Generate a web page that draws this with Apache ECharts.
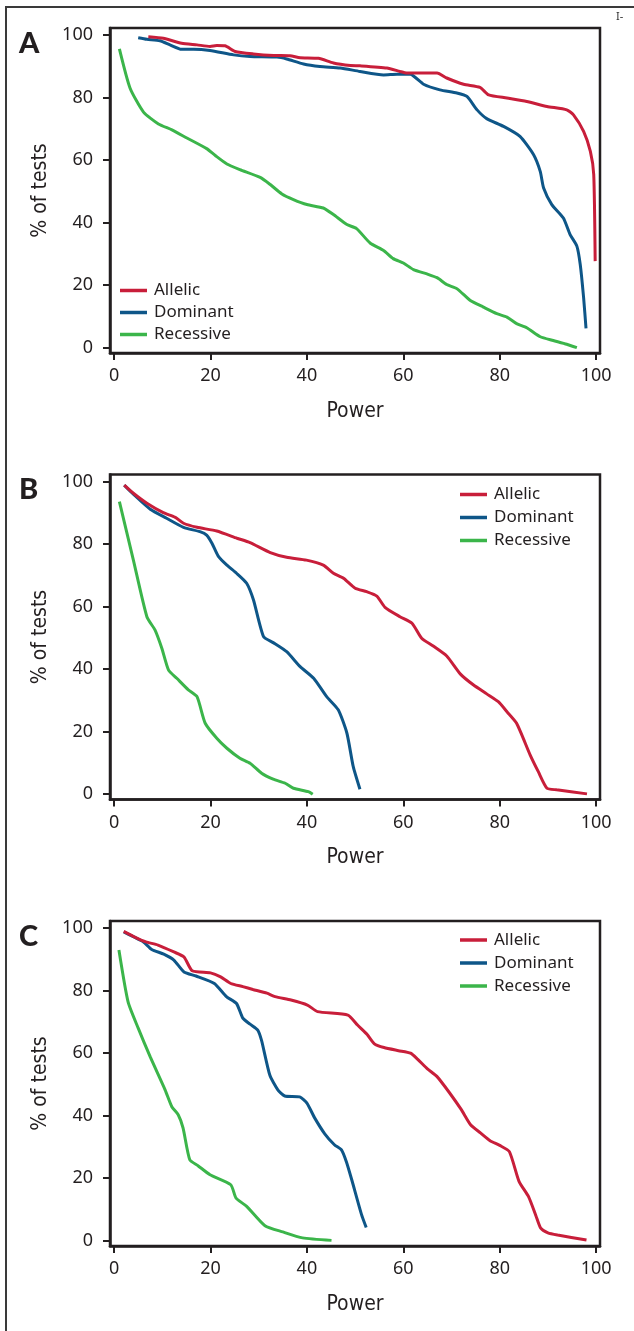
<!DOCTYPE html>
<html>
<head>
<meta charset="utf-8">
<script src="https://cdn.jsdelivr.net/npm/echarts@6/dist/echarts.min.js"></script>
<style>
html,body{margin:0;padding:0;background:#fff;}
#chart{width:634px;height:1331px;}
</style>
</head>
<body>
<div id="chart"></div>
<script>
// ---------- data ----------
var seriesNames = ['Allelic', 'Dominant', 'Recessive'];
var panelLetters = ['A', 'B', 'C'];
var xTickValues = [0, 20, 40, 60, 80, 100];
var yTickValues = [0, 20, 40, 60, 80, 100];
var xAxisTitle = 'Power';
var yAxisTitle = '% of tests';

// Panel A  [power, % of tests]
var aAllelic = [[7.1,99.5],[10.2,99.0],[14.0,97.4],[17.2,96.9],[19.9,96.4],[21.3,96.7],[23.0,96.6],[25.1,94.8],[28.9,94.0],[33.1,93.5],[36.5,93.4],[38.6,92.8],[42.4,92.6],[45.5,91.1],[49.0,90.3],[51.0,90.2],[56.6,89.5],[59.3,88.4],[60.7,87.9],[67.0,87.9],[69.0,86.3],[72.5,84.3],[75.9,83.3],[77.7,80.9],[81.5,79.9],[85.6,78.8],[89.8,77.2],[93.9,76.1],[95.3,74.5],[97.4,69.2],[98.8,62.8],[99.5,55.4],[99.8,27.7]];
var aDominant = [[5.0,99.2],[6.8,98.7],[9.5,98.2],[11.6,96.9],[14.0,95.5],[16.5,95.5],[19.9,95.1],[24.8,93.7],[28.2,93.2],[33.8,93.0],[35.8,92.4],[39.3,90.8],[42.7,90.0],[46.9,89.5],[51.0,88.4],[55.9,87.3],[58.7,87.5],[61.4,87.5],[64.2,84.3],[67.6,82.5],[71.1,81.5],[73.2,80.4],[75.3,76.1],[77.3,73.3],[80.8,70.8],[84.2,67.6],[87.0,61.8],[88.4,56.4],[89.1,51.1],[90.8,45.8],[93.2,41.5],[94.6,36.2],[96.0,32.5],[96.7,26.6],[97.4,16.0],[97.9,6.2]];
var aRecessive = [[1.1,95.6],[3.3,83.1],[6.1,75.4],[9.2,71.6],[12.0,69.7],[15.1,67.1],[19.2,63.7],[21.0,61.5],[23.4,58.8],[26.1,57.0],[30.3,54.5],[32.4,52.2],[34.8,49.2],[37.2,47.4],[40.0,45.8],[43.4,44.7],[45.5,42.6],[48.3,39.4],[50.3,38.1],[53.1,33.5],[55.9,31.1],[57.9,28.5],[60.0,27.1],[62.1,25.0],[64.9,23.6],[67.0,22.4],[69.0,20.2],[71.1,18.9],[73.9,15.1],[76.6,13.0],[79.4,10.9],[81.5,9.8],[83.5,7.7],[85.6,6.4],[88.4,3.5],[91.1,2.3],[93.9,1.1],[96.0,0.0]];

// Panel B
var bAllelic = [[2.1,98.9],[4.0,96.3],[6.8,93.1],[10.2,90.1],[12.7,88.6],[14.4,86.7],[17.2,85.4],[21.3,84.2],[25.5,81.9],[28.2,80.5],[32.4,77.3],[35.8,75.8],[39.9,74.9],[43.4,73.3],[45.5,70.7],[47.6,69.1],[50.0,65.9],[52.4,64.8],[54.5,63.4],[56.2,59.8],[59.3,56.8],[61.8,54.7],[63.8,49.9],[66.2,47.4],[69.0,44.2],[71.8,38.5],[74.5,35.0],[77.3,32.1],[79.7,29.6],[81.5,26.4],[83.5,22.7],[86.3,12.6],[88.0,7.2],[89.8,1.9],[91.8,1.4],[98.1,0.1]];
var bDominant = [[2.1,98.9],[4.0,96.0],[7.5,91.2],[10.9,88.3],[14.4,85.4],[17.8,84.0],[19.2,82.9],[20.3,80.3],[21.6,76.2],[23.4,73.3],[25.4,70.7],[27.5,67.5],[28.9,62.2],[31.0,50.4],[33.0,48.5],[35.8,45.6],[38.6,40.8],[41.4,37.1],[44.1,31.2],[46.5,27.0],[48.3,19.5],[49.6,8.9],[51.0,1.6]];
var bRecessive = [[1.1,93.6],[4.0,74.9],[6.8,56.8],[8.5,52.5],[9.9,46.7],[11.3,39.7],[13.0,37.1],[15.4,33.4],[17.2,31.2],[18.9,22.7],[21.3,17.9],[23.4,14.7],[26.1,11.5],[28.2,9.9],[30.6,6.7],[33.0,4.8],[35.5,3.5],[37.2,1.9],[40.3,0.8],[41.2,0.0]];

// Panel C
var cAllelic = [[2.0,99.0],[4.5,97.0],[6.6,95.6],[9.1,94.6],[12.4,92.4],[14.5,90.8],[16.2,86.4],[20.0,85.7],[22.1,84.4],[24.2,82.3],[26.7,81.3],[28.8,80.4],[31.7,79.2],[33.4,78.1],[36.7,77.0],[40.1,75.4],[42.2,73.3],[48.5,72.2],[50.5,69.0],[52.5,66.0],[54.0,63.0],[56.0,61.8],[59.0,60.8],[61.5,60.0],[63.0,58.0],[65.0,55.0],[67.0,52.5],[69.5,47.5],[72.0,42.0],[74.0,37.0],[76.0,34.5],[78.0,32.0],[80.0,30.5],[82.0,28.5],[84.0,19.0],[86.0,14.0],[87.5,8.0],[88.5,4.0],[90.0,2.5],[92.0,1.8],[98.0,0.2]];
var cDominant = [[2.0,98.8],[4.1,97.2],[6.1,95.6],[7.8,93.2],[10.3,91.7],[12.4,89.8],[14.5,86.0],[17.0,84.7],[20.8,82.3],[23.3,78.1],[25.4,75.9],[26.7,71.2],[28.2,69.3],[29.8,67.4],[30.6,64.0],[32.3,53.0],[34.0,48.2],[35.4,46.3],[38.5,46.0],[40.0,44.0],[41.6,39.3],[43.7,34.2],[45.7,30.7],[47.2,29.0],[48.2,25.2],[49.3,19.5],[51.3,8.5],[52.3,4.2]];
var cRecessive = [[1.0,93.0],[2.9,76.4],[5.0,68.0],[7.5,58.8],[10.6,48.2],[12.0,42.8],[13.3,40.3],[14.3,36.1],[15.7,25.9],[17.4,24.0],[19.9,21.1],[24.2,17.9],[25.3,13.6],[27.5,11.0],[31.3,4.8],[35.0,2.8],[39.1,0.9],[45.1,0.1]];

var panelData = [
  [aAllelic, aDominant, aRecessive],
  [bAllelic, bDominant, bRecessive],
  [cAllelic, cDominant, cRecessive]
];

// ---------- styling ----------
var colors = ['#c81e3a', '#0e5688', '#3bb54a'];
var ink = '#231f20';
var tickFont = '"Noto Sans", Lato, sans-serif';
var condFont = '"Liberation Sans Narrow", "DejaVu Sans Condensed", Roboto, sans-serif';
var gridTops = [28, 474.5, 921];
var gridH = 325;

var grids = [], xAxes = [], yAxes = [], series = [], legends = [], graphics = [];

var legendPos = [
  {left: 120, top: 279.5, lh: 22},
  {left: 460, top: 483, lh: 23},
  {left: 460, top: 928.5, lh: 23}
];

for (var p = 0; p < 3; p++) {
  grids.push({left: 110, width: 490, top: gridTops[p], height: gridH,
    show: true, borderColor: ink, borderWidth: 2.5, backgroundColor: 'transparent'});
  xAxes.push({
    type: 'value', gridIndex: p, min: -0.85, max: 100.8,
    name: xAxisTitle, nameLocation: 'middle', nameGap: 48,
    nameTextStyle: {fontFamily: condFont, fontSize: 21, color: ink},
    axisLine: {show: true, onZero: false, lineStyle: {color: ink, width: 2.5}},
    axisTick: {show: true, length: 7, inside: false, customValues: xTickValues, lineStyle: {color: ink, width: 2}},
    axisLabel: {customValues: xTickValues, fontFamily: tickFont, fontSize: 18, color: ink, margin: 14},
    splitLine: {show: false}
  });
  yAxes.push({
    type: 'value', gridIndex: p, min: -1.7, max: 102.3,
    name: yAxisTitle, nameLocation: 'middle', nameGap: 56, nameRotate: 90,
    nameTextStyle: {fontFamily: condFont, fontSize: 21, color: ink},
    axisLine: {show: true, onZero: false, lineStyle: {color: ink, width: 2.5}},
    axisTick: {show: true, length: 7, inside: false, customValues: yTickValues, lineStyle: {color: ink, width: 2}},
    axisLabel: {customValues: yTickValues, fontFamily: tickFont, fontSize: 18, color: ink, margin: 17},
    splitLine: {show: false}
  });
  for (var s = 0; s < 3; s++) {
    series.push({
      type: 'line', name: seriesNames[s], xAxisIndex: p, yAxisIndex: p,
      data: panelData[p][s], showSymbol: false, smooth: 0.2,
      lineStyle: {color: colors[s], width: 3},
      itemStyle: {color: colors[s]},
      z: 3 - s
    });
  }
  var lp = legendPos[p];
  legends.push({
    orient: 'vertical', left: lp.left, top: lp.top, itemGap: 0,
    itemWidth: 27, itemHeight: 3.5, icon: 'rect', padding: 0,
    data: seriesNames,
    textStyle: {fontFamily: tickFont, fontSize: 17, color: ink, lineHeight: lp.lh, padding: [0, 0, 0, 2]}
  });
  graphics.push({
    type: 'text', left: 19, top: gridTops[p] + 1,
    style: {text: panelLetters[p], font: '900 29px Lato, "Noto Sans", sans-serif', fill: ink}
  });
}

// outer frame and corner mark
graphics.push({type: 'rect', shape: {x: 6, y: 7, width: 700, height: 1400},
  style: {fill: 'none', stroke: '#3a3a3a', lineWidth: 2}, silent: true});
graphics.push({type: 'text', left: 616, top: 11,
  style: {text: 'I-', font: '11px "Noto Sans", sans-serif', fill: '#333'}});

var chart = echarts.init(document.getElementById('chart'), null, {renderer: 'canvas'});
chart.setOption({
  animation: false,
  backgroundColor: '#fff',
  grid: grids,
  xAxis: xAxes,
  yAxis: yAxes,
  legend: legends,
  series: series,
  graphic: graphics
});
</script>
</body>
</html>
